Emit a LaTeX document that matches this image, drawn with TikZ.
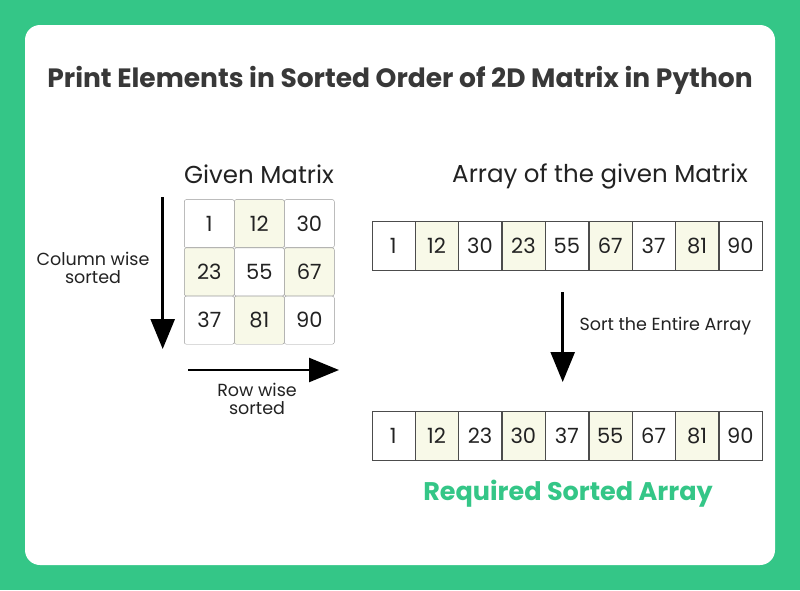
\documentclass[tikz,border=0pt]{standalone}
\usepackage{fontspec}
\setmainfont{Poppins}
\usetikzlibrary{arrows.meta,positioning,shapes}
\definecolor{ggreen}{RGB}{52,198,135}
\definecolor{hilite}{RGB}{248,249,232}
\definecolor{ink}{RGB}{34,34,34}
\tikzstyle{cell}=[rectangle,draw=black!40,rounded corners=2pt,minimum width=50pt,
              minimum height=48pt,inner sep=0pt,text=ink,font=\fontsize{21}{24}\selectfont]
\tikzstyle{box}=[rectangle,draw=black!70,minimum width=43pt,minimum height=49pt,
              inner sep=0pt,text=ink,font=\fontsize{21}{24}\selectfont]
\tikzstyle{hl}=[fill=hilite]
\tikzstyle{bigarrow}=[-{Triangle[length=30pt,width=24pt]},line width=2.5pt,draw=black]
\tikzstyle{label}=[text=ink,font=\fontsize{17.5}{21}\selectfont,align=center]
\tikzstyle{heading}=[text=ink,font=\fontsize{24.5}{28}\selectfont]

\begin{document}
\begin{tikzpicture}[x=1pt,y=-1pt]
	\fill[ggreen] (0,0) rectangle (800,590);
	\fill[white,rounded corners=15pt] (25,25) rectangle (775,565);

	\node[text=ink!90,font=\bfseries\fontsize{26.5}{30}\selectfont] (title) at (400,80)
		{Print Elements in Sorted Order of 2D Matrix in Python};

	% given matrix
	\node[heading] (gm) at (259,174) {Given Matrix};
	\foreach \v/\c/\r/\f in {1/1/1/white,12/2/1/hilite,30/3/1/white,
	                         23/1/2/hilite,55/2/2/white,67/3/2/hilite,
	                         37/1/3/white,81/2/3/hilite,90/3/3/white}
		\node[cell,fill=\f] (m\r\c) at ({159.3+50*\c},{175.3+48.3*\r}) {\v};

	\coordinate (ctop) at (162.7,197);
	\coordinate (cbot) at (162.7,349);
	\coordinate (rleft) at (188,370);
	\coordinate (rright) at (339,370);
	\draw[bigarrow] (ctop) -- (cbot);
	\draw[bigarrow] (rleft) -- (rright);
	\node[label] (colwise) at (93,268) {Column wise\\[-3pt]sorted};
	\node[label] (rowwise) at (257,399) {Row wise\\[-3pt]sorted};

	% arrays
	\node[heading] (ag) at (600,176) {Array of the given Matrix};
	\node[box] (a1) at (393.2,245.5) {1};
	\node[box] (s1) at (393.2,435.5) {1};
	\foreach \v/\f [count=\i from 2, evaluate=\i as \p using int(\i-1)] in
		{12/hilite,30/white,23/hilite,55/white,67/hilite,37/white,81/hilite,90/white}
		\node[box,fill=\f,right=0pt of a\p] (a\i) {\v};
	\foreach \v/\f [count=\i from 2, evaluate=\i as \p using int(\i-1)] in
		{12/hilite,23/white,30/hilite,37/white,55/hilite,67/white,81/hilite,90/white}
		\node[box,fill=\f,right=0pt of s\p] (s\i) {\v};

	\coordinate (stop) at (562.7,292);
	\coordinate (sbot) at (562.7,382);
	\draw[bigarrow] (stop) -- (sbot);
	\node[label,anchor=west] (sortlbl) at (576,326) {Sort the Entire Array};

	\node[text=ggreen,font=\bfseries\fontsize{25.5}{30}\selectfont] (req) at (568,494)
		{Required Sorted Array};
\end{tikzpicture}
\end{document}
